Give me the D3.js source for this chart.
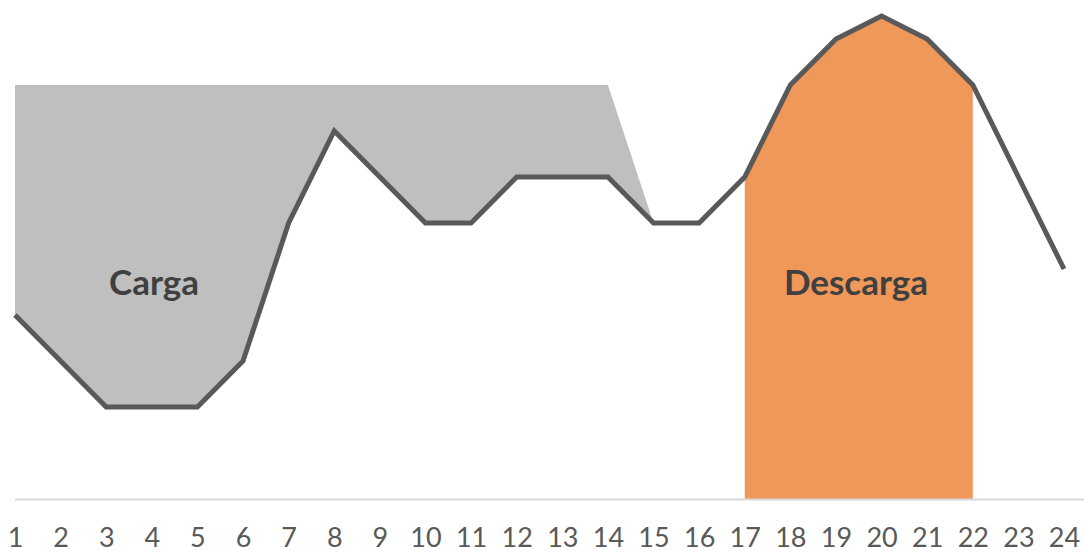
<!DOCTYPE html>
<html>
<head>
<meta charset="utf-8">
<script src="https://cdn.jsdelivr.net/npm/d3@7"></script>
<style>
  body { margin: 0; background: #fff; }
  svg text { font-family: Lato, "Open Sans", sans-serif; }
</style>
</head>
<body>
<div id="chart"></div>
<script>
// hours of the day
var hours = d3.range(1, 25);
// demand curve
var demand = [4, 3, 2, 2, 2, 3, 6, 8, 7, 6, 6, 7, 7, 7, 6, 6, 7, 9, 10, 10.5, 10, 9, 7, 5];
// upper limit of the charging band (hours 1..15)
var cargaHours = d3.range(1, 16);
var cargaTop = [9, 9, 9, 9, 9, 9, 9, 9, 9, 9, 9, 9, 9, 9, 6];
// discharge hours
var descargaHours = [17, 18, 19, 20, 21, 22];

var width = 1084, height = 555;

var svg = d3.select("#chart")
  .append("svg")
  .attr("width", width)
  .attr("height", height);

var x = d3.scalePoint()
  .domain(hours)
  .range([15, 1064]);

var y = d3.scaleLinear()
  .domain([0, 10.5])
  .range([499, 16]);

// carga area: between demand and flat top
var cargaArea = d3.area()
  .x(function(d) { return x(d); })
  .y0(function(d) { return y(demand[d - 1]); })
  .y1(function(d, i) { return y(cargaTop[i]); });

svg.append("path")
  .datum(cargaHours)
  .attr("d", cargaArea)
  .style("fill", "#bfbfbf");

// descarga area: under the demand curve
var descargaArea = d3.area()
  .x(function(d) { return x(d); })
  .y0(y(0))
  .y1(function(d) { return y(demand[d - 1]); });

svg.append("path")
  .datum(descargaHours)
  .attr("d", descargaArea)
  .style("fill", "#f0975a");

// baseline
svg.append("line")
  .attr("x1", 15)
  .attr("x2", width)
  .attr("y1", y(0) + 0.5)
  .attr("y2", y(0) + 0.5)
  .style("stroke", "#d9d9d9")
  .style("stroke-width", 2);

// demand line
var line = d3.line()
  .x(function(d) { return x(d); })
  .y(function(d) { return y(demand[d - 1]); });

svg.append("path")
  .datum(hours)
  .attr("d", line)
  .style("fill", "none")
  .style("stroke", "#595959")
  .style("stroke-width", 5);

// x axis labels
svg.append("g")
  .attr("transform", "translate(0," + 547 + ")")
  .call(d3.axisBottom(x).tickSize(0).tickPadding(0))
  .call(function(g) {
    g.select(".domain").remove();
    g.selectAll("text")
      .attr("dy", null)
      .attr("y", 0)
      .style("font-size", "27px")
      .style("font-family", "Lato, 'Open Sans', sans-serif")
      .style("fill", "#595959");
  });

// area labels
svg.append("text")
  .attr("x", 154)
  .attr("y", 295)
  .style("text-anchor", "middle")
  .style("font-size", "35px")
  .style("font-weight", "bold")
  .style("fill", "#404040")
  .text("Carga");

svg.append("text")
  .attr("x", 856)
  .attr("y", 295)
  .style("text-anchor", "middle")
  .style("font-size", "35px")
  .style("font-weight", "bold")
  .style("fill", "#404040")
  .text("Descarga");
</script>
</body>
</html>
